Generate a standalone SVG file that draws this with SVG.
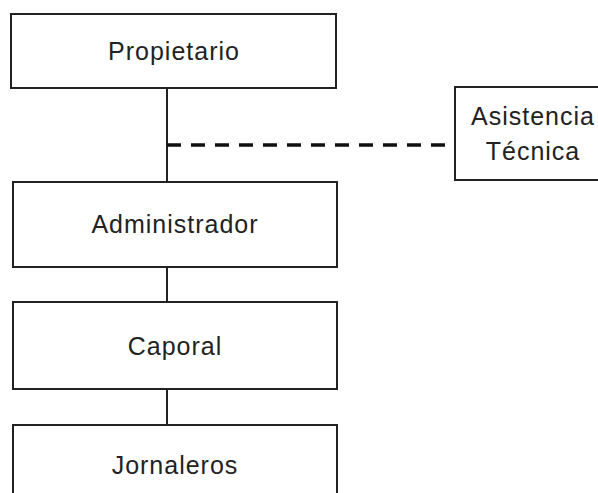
<svg xmlns="http://www.w3.org/2000/svg" width="598" height="493" viewBox="0 0 598 493">
<style>
.box{fill:#fff;stroke:#222;stroke-width:2}
.lbl{font-family:"Liberation Sans",Arial,sans-serif;font-size:25px;letter-spacing:1px;fill:#222;text-anchor:middle}
.con{stroke:#222;stroke-width:2;fill:none}
.dash{stroke:#111;stroke-width:3.5;stroke-dasharray:14 10;fill:none}
</style>
<rect width="598" height="493" fill="#fff"/>
<g id="connectors">
<line class="con" x1="167" y1="88" x2="167" y2="182"/>
<line class="con" x1="167" y1="267" x2="167" y2="302"/>
<line class="con" x1="167" y1="389" x2="167" y2="425"/>
<line class="dash" x1="167" y1="145" x2="455" y2="145"/>
</g>
<g id="propietario">
<rect class="box" x="11" y="14" width="325" height="74"/>
<text class="lbl" x="174" y="60">Propietario</text>
</g>
<g id="asistencia">
<rect class="box" x="455" y="87" width="160" height="93"/>
<text class="lbl" x="533" y="125">Asistencia</text>
<text class="lbl" x="533" y="160">Técnica</text>
</g>
<g id="administrador">
<rect class="box" x="13" y="182" width="324" height="85"/>
<text class="lbl" x="175" y="233">Administrador</text>
</g>
<g id="caporal">
<rect class="box" x="13" y="302" width="324" height="87"/>
<text class="lbl" x="175" y="355">Caporal</text>
</g>
<g id="jornaleros">
<rect class="box" x="13" y="425" width="324" height="85"/>
<text class="lbl" x="175" y="474">Jornaleros</text>
</g>
</svg>
